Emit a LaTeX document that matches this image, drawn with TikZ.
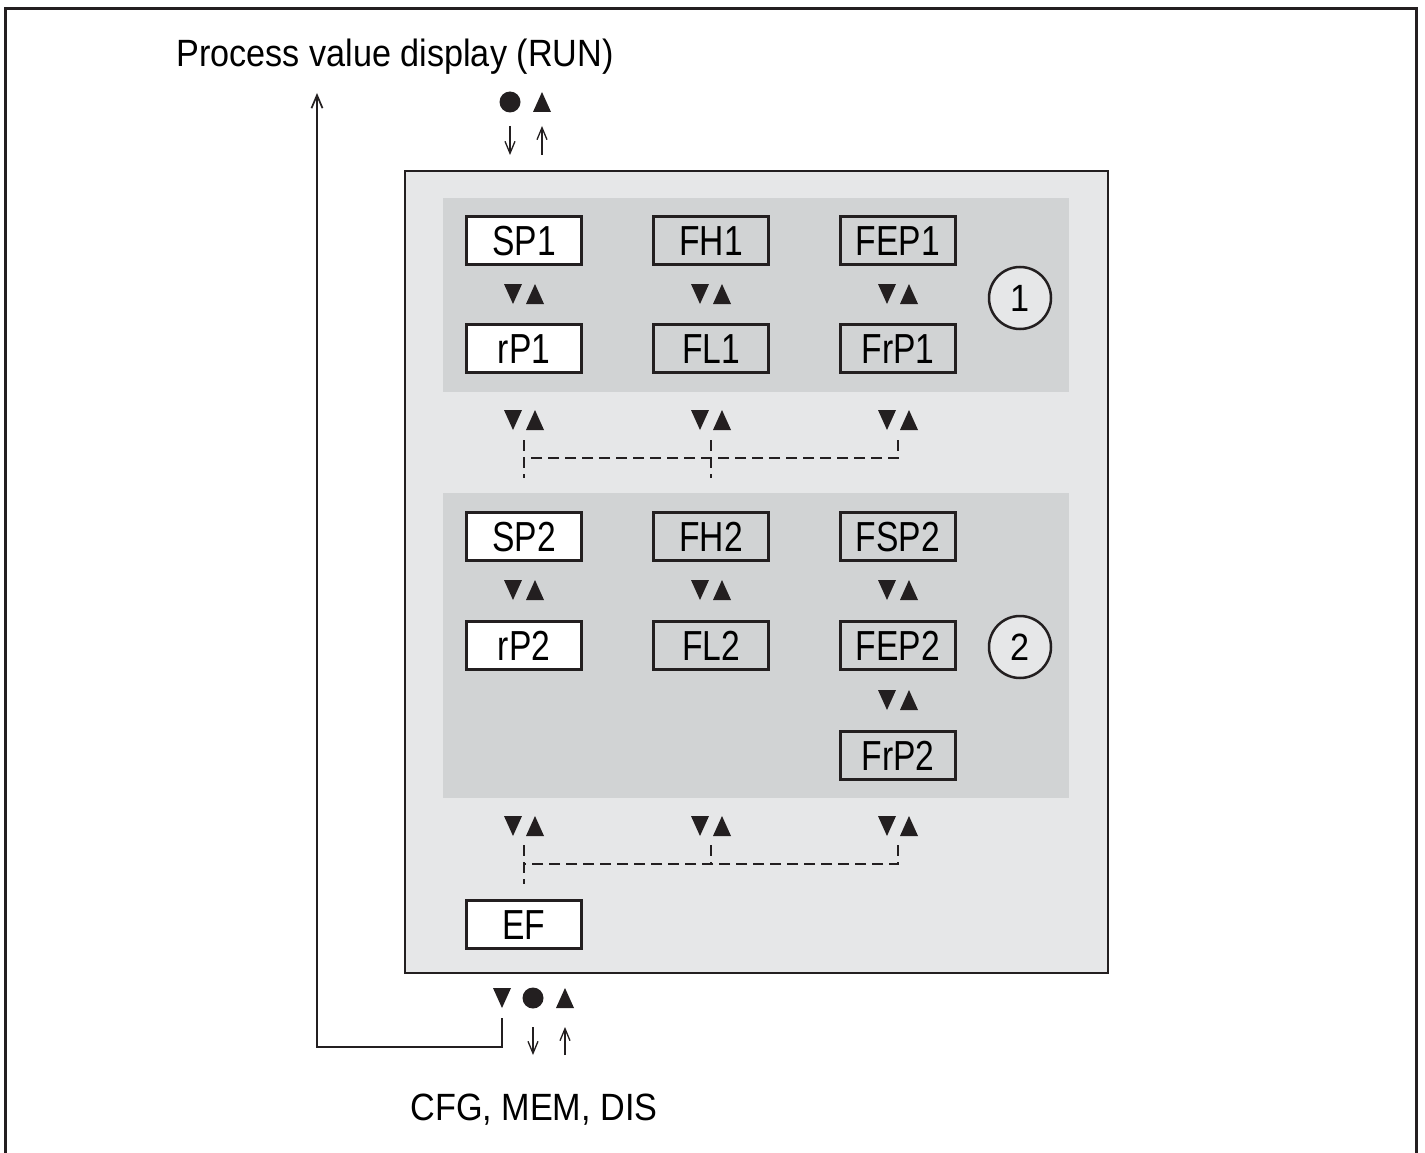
\documentclass[tikz,border=0pt]{standalone}
\usepackage{fontspec}
\setmainfont{Liberation Sans}[FakeStretch=0.9]
\newfontfamily\boxfont{Liberation Sans}[FakeStretch=0.8]
\usetikzlibrary{arrows.meta}
\definecolor{lightbg}{HTML}{E6E7E8}
\definecolor{panelbg}{HTML}{D1D3D4}
\definecolor{ink}{HTML}{231F20}
\tikzset{
  parbox/.style={draw=ink, line width=3pt, minimum width=115pt, minimum height=48pt,
    inner sep=0pt, font=\boxfont\fontsize{42}{44}\selectfont, text height=30pt, text depth=0pt},
  whitebox/.style={parbox, fill=white},
  numcircle/.style={circle, draw=ink, line width=2.5pt, minimum size=62pt, inner sep=0pt,
    fill=lightbg, font=\fontsize{38}{40}\selectfont, text height=27pt, text depth=0pt},
  label/.style={inner sep=0pt, font=\fontsize{38}{40}\selectfont, anchor=base},
  smallarrow/.style={draw=ink, line width=1.3pt, -{Straight Barb[length=12pt,width=10pt]}},
  longarrow/.style={draw=ink, line width=1.7pt, -{Straight Barb[length=13pt,width=11pt]}},
  dashlink/.style={draw=ink, line width=1.3pt, dash pattern=on 11pt off 6pt},
  tridown/.pic={\fill[ink] (-9,-10) -- (9,-10) -- (0,10) -- cycle;},
  triup/.pic={\fill[ink] (-9,10) -- (9,10) -- (0,-10) -- cycle;},
  blackdot/.pic={\fill[ink] (0,0) circle (10.5pt);},
  updown/.pic={\fill[ink] (-20,-10) -- (-2,-10) -- (-11,10) -- cycle;
               \fill[ink] (2,10) -- (20,10) -- (11,-10) -- cycle;}
}
\begin{document}
\begin{tikzpicture}[x=1pt,y=-1pt]
\useasboundingbox (0,0) rectangle (1425,1153);
\fill[white] (0,0) rectangle (1425,1153);
% outer frame (open at bottom)
\draw[ink, line width=3pt] (5.5,1153) -- (5.5,8.5) -- (1416,8.5) -- (1416,1153);

% main box and panels
\node[draw=ink, line width=1.7pt, fill=lightbg, minimum width=703pt, minimum height=802pt,
  inner sep=0pt, anchor=north west] (main) at (404,170) {};
\node[fill=panelbg, minimum width=626pt, minimum height=194pt, inner sep=0pt,
  anchor=north west] (panelA) at (443,198) {};
\node[fill=panelbg, minimum width=626pt, minimum height=305pt, inner sep=0pt,
  anchor=north west] (panelB) at (443,493) {};

% labels
\node[label] (run) at (395,67) {Process value display (RUN)};
\node[label] (cfg) at (534,1120) {CFG, MEM, DIS};

% top symbols
\pic at (510,102) {blackdot};
\pic at (542,102) {triup};
\coordinate (tdA) at (510,126);
\coordinate (tdB) at (510,155);
\coordinate (tuA) at (542,155);
\coordinate (tuB) at (542,126);
\draw[smallarrow] (tdA) -- (tdB);
\draw[smallarrow] (tuA) -- (tuB);

% panel 1
\node[whitebox] (sp1) at (524,240) {SP1};
\node[parbox] (fh1) at (711,240) {FH1};
\node[parbox] (fep1) at (898,240) {FEP1};
\node[whitebox] (rp1) at (524,348) {rP1};
\node[parbox] (fl1) at (711,348) {FL1};
\node[parbox] (frp1) at (898,348) {FrP1};
\pic at (524,294) {updown};
\pic at (711,294) {updown};
\pic at (898,294) {updown};
\node[numcircle] (c1) at (1020,298) {1};

% between panels
\pic at (524,420) {updown};
\pic at (711,420) {updown};
\pic at (898,420) {updown};
\coordinate (a1) at (524,440);
\coordinate (a2) at (711,440);
\coordinate (a3) at (898,440);
\coordinate (h1) at (524,458);
\coordinate (h2) at (711,458);
\coordinate (h3) at (898,458);
\coordinate (b1) at (524,478);
\coordinate (b2) at (711,478);
\draw[dashlink] (a1) -- (b1);
\draw[dashlink] (a2) -- (b2);
\draw[dashlink] (a3) -- (h3) -- (h1);

% panel 2
\node[whitebox] (sp2) at (524,536) {SP2};
\node[parbox] (fh2) at (711,536) {FH2};
\node[parbox] (fsp2) at (898,536) {FSP2};
\node[whitebox] (rp2) at (524,645) {rP2};
\node[parbox] (fl2) at (711,645) {FL2};
\node[parbox] (fep2) at (898,645) {FEP2};
\node[parbox] (frp2) at (898,755) {FrP2};
\pic at (524,590) {updown};
\pic at (711,590) {updown};
\pic at (898,590) {updown};
\pic at (898,700) {updown};
\node[numcircle] (c2) at (1020,647) {2};

% below panel 2
\pic at (524,826) {updown};
\pic at (711,826) {updown};
\pic at (898,826) {updown};
\coordinate (d1) at (524,845);
\coordinate (d2) at (711,845);
\coordinate (d3) at (898,845);
\coordinate (e1) at (524,864);
\coordinate (e2) at (711,864);
\coordinate (e3) at (898,864);
\coordinate (f1) at (524,884);
\draw[dashlink] (d1) -- (f1);
\draw[dashlink] (d2) -- (e2);
\draw[dashlink] (d3) -- (e3) -- (e1);

\node[whitebox] (ef) at (524,924) {EF};

% bottom symbols
\pic at (502,998) {tridown};
\pic at (533,998) {blackdot};
\pic at (565,998) {triup};
\coordinate (bdA) at (533,1027);
\coordinate (bdB) at (533,1055);
\coordinate (buA) at (565,1055);
\coordinate (buB) at (565,1027);
\draw[smallarrow] (bdA) -- (bdB);
\draw[smallarrow] (buA) -- (buB);

% return arrow to RUN
\coordinate (rs) at (502,1018);
\coordinate (rc1) at (502,1047);
\coordinate (rc2) at (317,1047);
\coordinate (re) at (317,93);
\draw[longarrow] (rs) -- (rc1) -- (rc2) -- (re);
\end{tikzpicture}
\end{document}
